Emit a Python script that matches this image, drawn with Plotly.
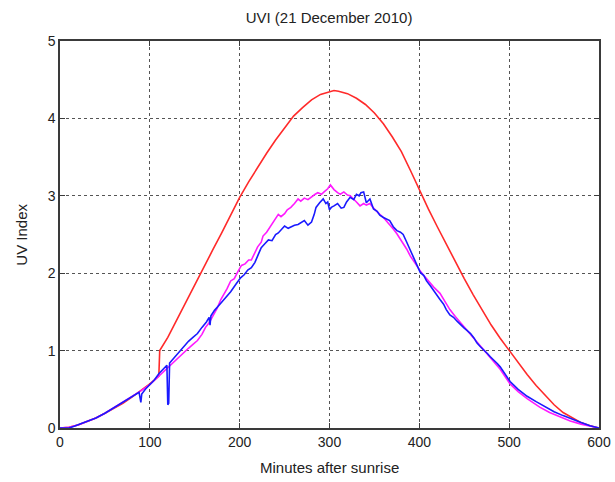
import plotly.graph_objects as go

# Clear-sky model (red)
red_t = [0, 10, 20, 30, 40, 50, 60, 70, 80, 90, 100, 110, 111, 120, 130, 140, 150, 160, 170, 180, 190,
         200, 210, 220, 230, 240, 250, 260, 270, 280, 290, 300, 305, 310, 320, 330, 340, 350, 360, 370,
         380, 390, 400, 410, 420, 430, 440, 450, 460, 470, 480, 490, 500, 510, 520, 530, 540, 550, 560,
         570, 580, 590, 600]
red_v = [0.0, 0.01, 0.04, 0.08, 0.13, 0.19, 0.25, 0.32, 0.40, 0.48, 0.57, 0.67, 1.0, 1.17, 1.40, 1.62,
         1.85, 2.07, 2.30, 2.52, 2.75, 2.98, 3.18, 3.37, 3.55, 3.72, 3.88, 4.03, 4.14, 4.24, 4.31, 4.35,
         4.36, 4.35, 4.32, 4.26, 4.18, 4.07, 3.93, 3.76, 3.57, 3.33, 3.07, 2.83, 2.60, 2.37, 2.15, 1.93,
         1.72, 1.52, 1.33, 1.16, 1.0, 0.84, 0.69, 0.55, 0.42, 0.30, 0.20, 0.13, 0.07, 0.03, 0.0]

# Measured (magenta)
mag_t = [0, 10, 20, 30, 40, 50, 60, 70, 80, 90, 100, 110, 115, 120, 125, 131, 137, 143, 148, 153, 158,
         162, 166, 170, 175, 179, 182, 186, 190, 194, 198, 202, 206, 210, 213, 217, 220, 224, 226, 230,
         233, 235, 238, 241, 243, 246, 250, 253, 257, 261, 265, 268, 272, 276, 280, 284, 287, 291, 294,
         298, 301, 305, 309, 312, 316, 320, 323, 327, 330, 334, 338, 341, 345, 349, 352, 356, 360, 364,
         367, 371, 375, 378, 382, 386, 390, 394, 397, 401, 405, 410, 416, 423, 429, 434, 440, 446, 452,
         458, 464, 470, 476, 482, 490, 501, 510, 520, 534, 545, 555, 568, 580, 590, 600]
mag_v = [0.0, 0.01, 0.04, 0.08, 0.13, 0.19, 0.26, 0.33, 0.40, 0.48, 0.56, 0.67, 0.73, 0.79, 0.84, 0.90,
         0.97, 1.03, 1.08, 1.13, 1.21, 1.30, 1.36, 1.44, 1.55, 1.66, 1.72, 1.80, 1.90, 1.93, 2.02, 2.10,
         2.12, 2.17, 2.17, 2.26, 2.34, 2.40, 2.48, 2.53, 2.58, 2.61, 2.66, 2.72, 2.76, 2.73, 2.77, 2.82,
         2.85, 2.90, 2.96, 2.93, 2.97, 2.95, 2.99, 3.02, 3.04, 3.02, 3.05, 3.09, 3.14, 3.08, 3.04, 3.02,
         3.05, 3.01, 3.00, 2.96, 2.92, 2.87, 2.90, 2.88, 2.90, 2.84, 2.80, 2.76, 2.72, 2.67, 2.63, 2.57,
         2.51, 2.46, 2.39, 2.31, 2.22, 2.15, 2.09, 2.03, 1.97, 1.90, 1.82, 1.74, 1.63, 1.53, 1.44, 1.36,
         1.28, 1.20, 1.11, 1.03, 0.95, 0.87, 0.76, 0.57, 0.47, 0.38, 0.27, 0.20, 0.15, 0.09, 0.05, 0.02, 0.0]

# Measured (blue)
blue_t = [0, 5, 10, 15, 20, 30, 40, 50, 60, 70, 80, 85, 88, 90, 91, 95, 100, 105, 110, 115, 119, 120,
          121, 122, 125, 131, 137, 143, 148, 153, 158, 163, 166, 167, 168, 172, 178, 184, 190, 196, 201,
          205, 209, 213, 217, 221, 224, 228, 232, 236, 240, 243, 247, 250, 254, 257, 261, 265, 269, 272,
          276, 280, 283, 285, 289, 293, 296, 298, 300, 302, 305, 309, 313, 316, 319, 323, 327, 330, 333,
          335, 338, 341, 345, 349, 353, 356, 360, 364, 367, 371, 375, 379, 382, 386, 390, 394, 397, 401,
          405, 408, 412, 416, 419, 423, 427, 430, 434, 438, 442, 446, 450, 453, 457, 461, 464, 468, 472,
          476, 479, 483, 487, 490, 495, 501, 510, 520, 530, 540, 550, 560, 568, 575, 580, 590, 600]
blue_v = [0.0, 0.0, 0.0, 0.02, 0.04, 0.08, 0.13, 0.19, 0.26, 0.33, 0.40, 0.43, 0.46, 0.33, 0.44, 0.50,
          0.56, 0.62, 0.70, 0.76, 0.81, 0.30, 0.32, 0.84, 0.88, 0.96, 1.05, 1.12, 1.17, 1.22, 1.30, 1.37,
          1.43, 1.33, 1.45, 1.52, 1.60, 1.68, 1.76, 1.86, 1.94, 1.98, 2.04, 2.07, 2.14, 2.25, 2.33, 2.38,
          2.43, 2.42, 2.50, 2.52, 2.57, 2.61, 2.58, 2.60, 2.62, 2.63, 2.66, 2.68, 2.62, 2.66, 2.76, 2.85,
          2.91, 2.96, 2.90, 2.92, 2.82, 2.85, 2.87, 2.90, 2.84, 2.85, 2.92, 2.98, 2.95, 3.02, 3.00, 3.04,
          3.05, 2.91, 2.96, 2.83, 2.80, 2.75, 2.72, 2.70, 2.68, 2.60, 2.55, 2.53, 2.50, 2.40, 2.29, 2.18,
          2.12, 2.01, 1.97, 1.90, 1.84, 1.77, 1.72, 1.66, 1.60, 1.53, 1.46, 1.43, 1.38, 1.33, 1.29, 1.26,
          1.22, 1.16, 1.10, 1.05, 1.01, 0.96, 0.92, 0.88, 0.83, 0.79, 0.70, 0.60, 0.50, 0.41, 0.34, 0.27,
          0.21, 0.16, 0.12, 0.09, 0.07, 0.03, 0.0]

x_ticks = [0, 100, 200, 300, 400, 500, 600]
y_ticks = [0, 1, 2, 3, 4, 5]

FONT = "Arial, Liberation Sans, sans-serif"

fig = go.Figure()
fig.add_trace(go.Scatter(x=red_t, y=red_v, mode="lines", line=dict(color="#ff2a2a", width=1.6)))
fig.add_trace(go.Scatter(x=mag_t, y=mag_v, mode="lines", line=dict(color="#ff1aff", width=1.6)))
fig.add_trace(go.Scatter(x=blue_t, y=blue_v, mode="lines", line=dict(color="#1a1aff", width=1.6)))

axis_common = dict(
    showline=True, linecolor="#3a3a3a", linewidth=1.5, mirror="ticks",
    ticks="inside", ticklen=5, tickcolor="#3a3a3a", tickwidth=1.2,
    showgrid=True, gridcolor="#555555", gridwidth=1.3, griddash="3px,3px",
    zeroline=False, automargin=False, ticklabeloverflow="allow",
    tickfont=dict(family=FONT, size=14, color="#222222"),
)

fig.update_xaxes(range=[0, 600], tickvals=x_ticks, **axis_common)
fig.update_yaxes(range=[0, 5], tickvals=y_ticks, **axis_common)

fig.update_layout(
    width=615, height=482,
    margin=dict(l=60, r=16, t=41, b=54),
    paper_bgcolor="white", plot_bgcolor="white",
    showlegend=False,
    font=dict(family=FONT, size=14, color="#222222"),
    title=dict(text="UVI (21 December 2010)", x=0.535, xanchor="center",
               y=1 - 18 / 482, yanchor="middle", yref="container", automargin=False,
               font=dict(family=FONT, size=15, color="#222222")),
    annotations=[
        dict(text="Minutes after sunrise", x=0.5, y=-0.103, xref="paper", yref="paper",
             xanchor="center", yanchor="middle", showarrow=False,
             font=dict(family=FONT, size=15, color="#222222")),
        dict(text="UV Index", x=-0.072, y=0.5, xref="paper", yref="paper",
             xanchor="center", yanchor="middle", showarrow=False, textangle=-90,
             font=dict(family=FONT, size=15, color="#222222")),
    ],
)

fig.write_html("out.html")
